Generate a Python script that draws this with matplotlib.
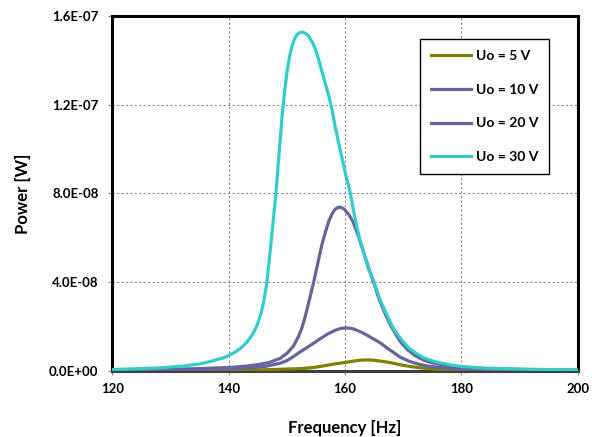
import matplotlib
matplotlib.use("Agg")
import matplotlib.pyplot as plt

# --- data (power in units of 1e-8 W) ---
freq_30 = [120, 124, 128, 132, 135, 137, 139, 140, 141, 142, 143, 144, 144.8, 145.5, 146.0,
           146.5, 147.0, 147.5, 148.1, 148.7, 149.2, 149.6, 150.0, 150.4, 150.86, 151.3,
           151.72, 152.2, 152.7, 153.2, 153.7, 154.3, 154.9, 155.5, 156.0, 156.6, 157.2,
           157.8, 158.3, 159.2, 160.05, 160.9, 161.6, 162.3, 163.2, 164.0, 164.9, 166.0,
           167.2, 168.3, 169.5, 171.0, 172.4, 173.5, 175.3, 178, 180.2, 184, 188, 194, 200]
power_30 = [0.05, 0.08, 0.12, 0.2, 0.3, 0.42, 0.57, 0.68, 0.82, 1.0, 1.25, 1.6, 2.0, 2.55, 3.1,
            3.9, 5.1, 6.4, 8.0, 10.0, 11.6, 12.6, 13.5, 14.1, 14.65, 14.98,
            15.17, 15.26, 15.28, 15.22, 15.11, 14.85, 14.5, 14.0, 13.52, 12.95, 12.39,
            11.7, 11.0, 9.9, 8.9, 8.0, 7.0, 6.15, 5.3, 4.6, 4.05, 3.2,
            2.5, 1.9, 1.45, 1.0, 0.75, 0.58, 0.41, 0.26, 0.18, 0.11, 0.08, 0.05, 0.03]

freq_20 = [120, 126, 132, 136, 140, 143, 145, 147, 148.8, 150, 151.1, 152.0, 152.6, 153.15,
           153.9, 154.6, 155.3, 156.0, 156.6, 157.2, 157.7, 158.2, 158.7, 159.2, 159.8,
           160.6, 161.3, 162.1, 162.8, 163.5, 164.2, 164.9, 165.8, 166.9, 168.0, 169.5,
           170.7, 172, 173.5, 175, 177, 180, 185, 190, 200]
power_20 = [0.02, 0.04, 0.07, 0.1, 0.14, 0.2, 0.27, 0.37, 0.55, 0.78, 1.1, 1.55, 1.95, 2.45,
            3.25, 4.0, 4.85, 5.68, 6.25, 6.75, 7.05, 7.26, 7.36, 7.38, 7.3,
            7.05, 6.75, 6.2, 5.65, 5.08, 4.5, 3.98, 3.25, 2.55, 1.95, 1.3,
            0.95, 0.68, 0.47, 0.35, 0.24, 0.15, 0.08, 0.05, 0.02]

freq_10 = [120, 130, 136, 140, 144, 146.5, 148.8, 150.0, 151.1, 152.3, 153.4, 154.6, 155.8,
           157.0, 158.2, 159.2, 160.3, 161.3, 162.2, 163.2, 164.2, 165.2, 166.1, 167.2,
           168.3, 169.5, 171, 172.5, 174, 177, 180, 190, 200]
power_10 = [0.01, 0.03, 0.05, 0.08, 0.13, 0.2, 0.33, 0.45, 0.63, 0.85, 1.03, 1.24, 1.45,
            1.65, 1.81, 1.9, 1.93, 1.89, 1.8, 1.68, 1.53, 1.38, 1.24, 1.02,
            0.82, 0.6, 0.42, 0.3, 0.21, 0.12, 0.07, 0.02, 0.01]

freq_5 = [120, 135, 140, 145, 148, 150, 152.5, 154.6, 156.5, 158.2, 159.8, 161.5, 162.7,
          163.8, 164.8, 166.0, 167.0, 167.8, 169.5, 171.3, 173, 175, 178, 182, 190, 200]
power_5 = [0.0, 0.01, 0.02, 0.03, 0.05, 0.07, 0.09, 0.14, 0.22, 0.3, 0.36, 0.43, 0.47,
           0.48, 0.47, 0.43, 0.39, 0.36, 0.26, 0.18, 0.12, 0.07, 0.04, 0.02, 0.01, 0.0]

series_labels = ["Uo = 5 V", "Uo = 10 V", "Uo = 20 V", "Uo = 30 V"]
x_ticks = [120, 140, 160, 180, 200]
y_ticks = [0, 4e-8, 8e-8, 1.2e-7, 1.6e-7]
y_tick_labels = ["0.0E+00", "4.0E-08", "8.0E-08", "1.2E-07", "1.6E-07"]

plt.rcParams["font.family"] = ["Lato", "DejaVu Sans"]
plt.rcParams["font.weight"] = "bold"

fig = plt.figure(figsize=(5.92, 4.37), dpi=100)
ax = fig.add_axes([0.190, 0.152, 0.786, 0.811])

olive = "#808000"
purple = "#65659b"
cyan = "#33cccc"
lw = 2.3

scale = 1e-8
ax.plot(freq_5, [p * scale for p in power_5], color=olive, lw=lw, label=series_labels[0], zorder=3)
ax.plot(freq_10, [p * scale for p in power_10], color=purple, lw=lw, label=series_labels[1], zorder=3)
ax.plot(freq_20, [p * scale for p in power_20], color=purple, lw=lw, label=series_labels[2], zorder=3)
ax.plot(freq_30, [p * scale for p in power_30], color=cyan, lw=lw, label=series_labels[3], zorder=3)

ax.set_xlim(120, 200)
ax.set_ylim(0, 1.6e-7)
ax.set_xticks(x_ticks)
ax.set_yticks(y_ticks)
ax.set_yticklabels(y_tick_labels)
ax.tick_params(axis="both", labelsize=9.5, length=3, width=0.8, color="#888888")
ax.tick_params(axis="y", pad=7)
ax.tick_params(axis="x", pad=6)

ax.grid(True, color="#888888", linestyle=(0, (2, 2)), linewidth=0.8)
ax.set_axisbelow(True)

for side in ["left", "right", "top"]:
    ax.spines[side].set_linewidth(2.2)
    ax.spines[side].set_color("black")
ax.spines["bottom"].set_linewidth(2.2)
ax.spines["bottom"].set_color("#404040")

ax.set_xlabel("Frequency [Hz]", fontsize=12, fontweight="bold", labelpad=18)
ax.set_ylabel("Power [W]", fontsize=12, fontweight="bold", labelpad=13)

leg = ax.legend(loc="upper left", bbox_to_anchor=(0.660, 0.935), fontsize=10,
                frameon=True, fancybox=False, edgecolor="black", framealpha=1,
                handlelength=2.9, labelspacing=1.55, borderpad=0.8, handletextpad=0.35,
                borderaxespad=0)
leg.get_frame().set_linewidth(1.0)

fig.savefig("out.png", dpi=100)
